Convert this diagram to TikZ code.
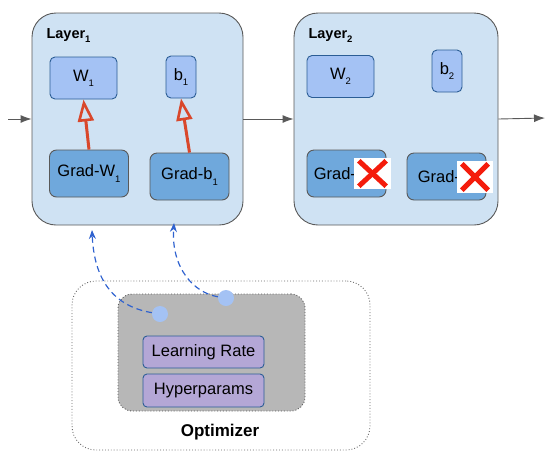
\documentclass[tikz,border=0pt]{standalone}
\usepackage{fontspec}
\setmainfont{Liberation Sans}
\usetikzlibrary{arrows.meta, positioning}

\definecolor{layerfill}{HTML}{CFE2F3}
\definecolor{edgegray}{HTML}{595959}
\definecolor{paramfill}{HTML}{A4C2F4}
\definecolor{paramedge}{HTML}{2B5D95}
\definecolor{gradfill}{HTML}{6FA8DC}
\definecolor{gradred}{HTML}{D9472B}
\definecolor{crossred}{HTML}{F41C0C}
\definecolor{hyperfill}{HTML}{B4A7D6}
\definecolor{optgray}{HTML}{B7B7B7}
\definecolor{linkblue}{HTML}{2F62CF}

\newcommand{\idx}[1]{\raisebox{-0.6ex}{\fontsize{9.5}{10}\selectfont #1}}

\begin{document}
\begin{tikzpicture}[x=1pt, y=-1pt, font=\fontsize{16.5}{19}\selectfont, layer/.style={draw=edgegray, fill=layerfill, line width=0.9pt, rounded corners=24pt, minimum height=212pt}, param/.style={draw=paramedge, fill=paramfill, line width=0.9pt, rounded corners=5pt, inner sep=0pt, minimum height=42pt}, grad/.style={draw=edgegray, fill=gradfill, line width=0.9pt, rounded corners=7pt, inner sep=0pt, minimum width=79pt, minimum height=47pt}, hyper/.style={draw=paramedge, fill=hyperfill, line width=0.9pt, rounded corners=4pt, inner sep=0pt, minimum width=121pt, minimum height=32pt}, crossbox/.style={fill=white, inner sep=0pt, minimum width=37pt, minimum height=31pt}, gradarrow/.style={-{Triangle[open, length=22pt, width=16pt, line width=2.6pt]}, gradred, line width=3pt}, flow/.style={-{Latex[length=11pt, width=8pt]}, edgegray, line width=0.9pt}, feedback/.style={-{Stealth[length=9pt, width=7pt]}, linkblue, line width=1.2pt, dash pattern=on 6pt off 4pt}, dotnode/.style={circle, fill=paramfill, inner sep=0pt, minimum size=16pt}]

\useasboundingbox (0,0) rectangle (548,459);

% layers
\node[layer, minimum width=211pt] (layer1) at (137.5,119) {};
\node[layer, minimum width=204pt] (layer2) at (396,119) {};
\node[anchor=base west, font=\fontsize{14.5}{17}\bfseries\selectfont] (name1) at (43,38) {Layer\idx{1}};
\node[anchor=base west, font=\fontsize{14.5}{17}\bfseries\selectfont] (name2) at (305,38) {Layer\idx{2}};

\node[param, minimum width=67pt] (W1) at (83.5,78) {W\idx{1}};
\node[param, minimum width=30pt] (b1) at (181,77) {b\idx{1}};
\node[grad] (gW1) at (89,173.5) {Grad-W\idx{1}};
\node[grad] (gb1) at (189.5,176.5) {Grad-b\idx{1}};

\node[param, minimum width=67pt] (W2) at (340.5,76.5) {W\idx{2}};
\node[param, minimum width=30pt] (b2) at (447,71) {b\idx{2}};
\node[grad] (gW2) at (346.5,173.5) {};
\node[anchor=west, inner sep=0pt] (gW2text) at ([xshift=7pt]gW2.west) {Grad-};
\node[grad] (gb2) at (446.5,176.5) {};
\node[anchor=west, inner sep=0pt] (gb2text) at ([xshift=11pt]gb2.west) {Grad-};

% crossed out gradients
\node[crossbox] (x1) at (372.5,173.5) {};
\draw[crossred, line width=5pt] (x1.south west) ++(5,-3) -- ([shift={(-5,3)}]x1.north east);
\draw[crossred, line width=5pt] (x1.north west) ++(5,3) -- ([shift={(-5,-3)}]x1.south east);
\node[crossbox, minimum width=36pt, minimum height=32pt] (x2) at (475,177) {};
\draw[crossred, line width=5pt] (x2.south west) ++(5,-3) -- ([shift={(-5,3)}]x2.north east);
\draw[crossred, line width=5pt] (x2.north west) ++(5,3) -- ([shift={(-5,-3)}]x2.south east);

\draw[gradarrow] (gW1.north) -- (W1.south);
\draw[gradarrow] (gb1.north) -- (b1.south);

% data flow
\coordinate (input) at (8,119);
\coordinate (output) at (545,118);
\draw[flow] (input) -- (layer1.west);
\draw[flow] (layer1.east) -- (layer2.west);
\draw[flow] (layer2.east) -- (output);

% optimizer
\node[draw=edgegray!90, dotted, line width=0.9pt, rounded corners=24pt, minimum width=298pt, minimum height=169pt] (opt) at (221,365.5) {};
\node[draw=edgegray, dotted, fill=optgray, line width=0.9pt, rounded corners=14pt, minimum width=187pt, minimum height=117pt] (state) at (211.5,352.5) {};
\node[hyper] (lr) at (203.5,352) {Learning Rate};
\node[hyper, minimum height=33pt] (hp) at (203.5,390.5) {Hyperparams};
\node[font=\fontsize{17}{20}\bfseries\selectfont] (optname) at (220,432) {Optimizer};

\node[dotnode] (d1) at (160,314) {};
\node[dotnode] (d2) at (226,298) {};
\coordinate (toW) at (92,230);
\coordinate (tob) at (174,223);
\draw[feedback] (d1) .. controls (112,306) and (94,278) .. (toW);
\draw[feedback] (d2) .. controls (194,293) and (171,268) .. (tob);

\end{tikzpicture}
\end{document}
